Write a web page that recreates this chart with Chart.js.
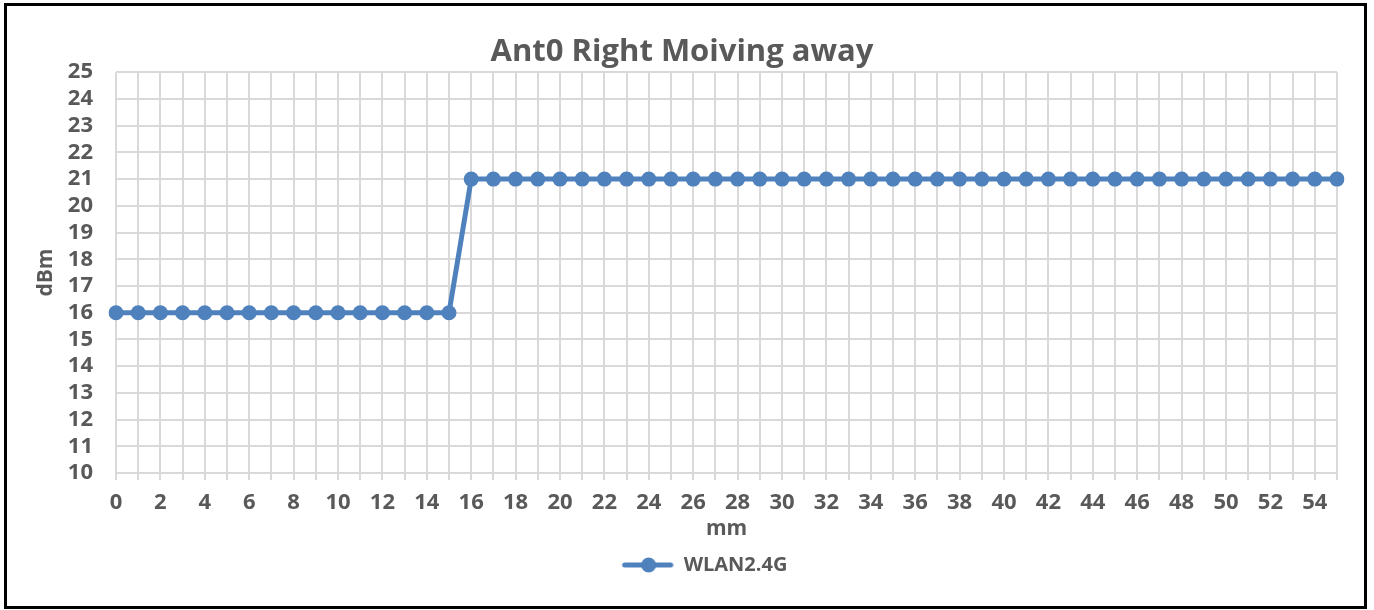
<!DOCTYPE html>
<html>
<head>
<meta charset="utf-8">
<script src="https://cdn.jsdelivr.net/npm/chart.js@4.4.0/dist/chart.umd.min.js"></script>
<style>
    body { margin: 0; background: #fff; }
    #frame {
        position: absolute; left: 4px; top: 3px;
        width: 1357px; height: 600px;
        border: 3px solid #000;
    }
    #chart { display: block; }
</style>
</head>
<body>
<div id="frame"><canvas id="chart" width="1357" height="600"></canvas></div>
<script>
// distance in mm
var distances = ['0','1','2','3','4','5','6','7','8','9','10','11','12','13','14','15','16','17','18','19',
    '20','21','22','23','24','25','26','27','28','29','30','31','32','33','34','35','36','37','38','39',
    '40','41','42','43','44','45','46','47','48','49','50','51','52','53','54','55'];
// power in dBm
var wlan24 = [16,16,16,16,16,16,16,16,16,16,16,16,16,16,16,16,
    21,21,21,21,21,21,21,21,21,21,21,21,21,21,21,21,21,21,21,21,21,21,21,21,
    21,21,21,21,21,21,21,21,21,21,21,21,21,21,21,21];
var yMin = 10, yMax = 25, yStep = 1;

var blue = '#4f81bd';
var textColor = '#595959';
var gridColor = '#d9d9d9';
var fontFamily = "'Open Sans', 'Liberation Sans', sans-serif";

// legend icon: line with a marker, like excel
var icon = document.createElement('canvas');
icon.width = 97;
icon.height = 20;
var ictx = icon.getContext('2d');
ictx.strokeStyle = blue;
ictx.lineWidth = 5;
ictx.lineCap = 'round';
ictx.beginPath();
ictx.moveTo(48, 10);
ictx.lineTo(94, 10);
ictx.stroke();
ictx.fillStyle = blue;
ictx.beginPath();
ictx.arc(72, 10, 7.5, 0, Math.PI * 2);
ictx.fill();

new Chart(document.getElementById('chart'), {
    type: 'line',
    data: {
        labels: distances,
        datasets: [{
            label: 'WLAN2.4G',
            data: wlan24,
            borderColor: blue,
            backgroundColor: blue,
            borderWidth: 5,
            pointRadius: 7.5,
            pointBorderWidth: 0,
            pointBackgroundColor: blue,
            tension: 0
        }]
    },
    options: {
        responsive: false,
        animation: false,
        layout: { padding: { left: 20, right: 27, top: 0, bottom: 21 } },
        plugins: {
            title: {
                display: true,
                text: 'Ant0 Right Moiving away',
                color: textColor,
                font: { family: fontFamily, size: 31, weight: 'bold' },
                padding: { top: 28, bottom: 1 }
            },
            legend: {
                position: 'bottom',
                labels: {
                    usePointStyle: true,
                    pointStyle: icon,
                    pointStyleWidth: 97,
                    padding: 10,
                    color: textColor,
                    font: { family: fontFamily, size: 20, weight: 'bold' }
                }
            },
            tooltip: { enabled: false }
        },
        scales: {
            x: {
                grid: { color: gridColor, lineWidth: 2, tickLength: 7, tickColor: gridColor },
                border: { display: false },
                ticks: {
                    autoSkip: false,
                    maxRotation: 0,
                    padding: 10,
                    color: textColor,
                    font: { family: fontFamily, size: 22, weight: 'bold' },
                    callback: function(val, i) {
                        return i % 2 ? '' : distances[i];
                    }
                },
                title: {
                    display: true,
                    text: 'mm',
                    color: textColor,
                    padding: { top: 0, bottom: 3 },
                    font: { family: fontFamily, size: 21, weight: 'bold' }
                },
                afterFit: function(scale) { scale.height = 72; }
            },
            y: {
                min: yMin,
                max: yMax,
                grid: { color: gridColor, lineWidth: 2, drawTicks: false },
                border: { display: false },
                ticks: {
                    stepSize: yStep,
                    autoSkip: false,
                    padding: 23,
                    color: textColor,
                    font: { family: fontFamily, size: 22, weight: 'bold' }
                },
                title: {
                    display: true,
                    text: 'dBm',
                    color: textColor,
                    padding: { top: 6, bottom: 0 },
                    font: { family: fontFamily, size: 21, weight: 'bold' }
                },
                afterFit: function(scale) { scale.width = 89; }
            }
        }
    }
});
</script>
</body>
</html>
